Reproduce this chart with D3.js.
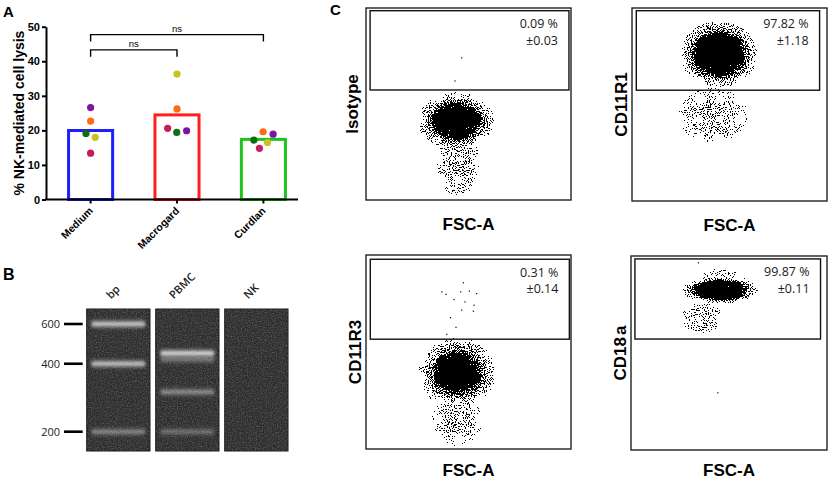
<!DOCTYPE html>
<html>
<head>
<meta charset="utf-8">
<script src="https://cdn.jsdelivr.net/npm/d3@7/dist/d3.min.js"></script>
<style>
  body { margin: 0; background: #fff; }
  svg { display: block; }
</style>
</head>
<body>
<div id="chart"></div>
<script>
// ---- panel A: NK-mediated cell lysis, one value per donor ----
const groups = ['Medium', 'Macrogard', 'Curdlan'];
const groupColors = ['#1e1eff', '#ff1e1e', '#1ec41e'];
const donorColors = ['#cc1a5c', '#ff6a12', '#0f6e0f', '#c6c41c', '#7a16a0'];
const lysisMedium = [13.4, 22.7, 19.1, 18.0, 26.6];
const lysisMacrogard = [20.6, 26.2, 19.4, 36.3, 19.9];
const lysisCurdlan = [14.8, 19.6, 17.2, 16.5, 18.9];
const lysisTicks = [0, 10, 20, 30, 40, 50];
const comparisons = [
  { from: 'Medium', to: 'Curdlan', level: 47.7, label: 'ns' },
  { from: 'Medium', to: 'Macrogard', level: 43.3, label: 'ns' }
];

// ---- panel B: gel, band size (bp) and brightness ----
const lanes = ['bp', 'PBMC', 'NK'];
const ladderSizes = [600, 400, 200];
const bandsBp = [[600, 0.8], [400, 0.75], [200, 0.38]];
const bandsPbmc = [[445, 0.9], [418, 0.3], [300, 0.42], [200, 0.28]];
const bandsNk = [];

// ---- panel C: flow cytometry, axes in % of scale ----
const stains = ['Isotype', 'CD11R1', 'CD11R3', 'CD18a'];
const gatePct = ['0.09 %', '97.82 %', '0.31 %', '99.87 %'];
const gateSd = ['±0.03', '±1.18', '±0.14', '±0.11'];
// gate [FSC min, FSC max, marker min, marker max]
const gates = [[2, 99, 57.3, 98.6], [2.2, 96.2, 57.4, 98.6], [2.1, 99.2, 56.6, 97.8], [2, 96.7, 57.2, 98.5]];
// populations [FSC-A, marker, radius FSC, radius marker, peak density, dense core fraction]
const popsIsotype = [[43.9, 41.1, 18.8, 15.2, 1, 0.5], [44.9, 19.3, 10.5, 17.5, 0.64, 0]];
const popsCD11R1 = [[44.6, 76.1, 20, 17.5, 1, 0.55], [41.5, 44.4, 18, 14.5, 0.62, 0]];
const popsCD11R3 = [[44.4, 39.3, 19, 18.5, 1, 0.45], [44.4, 15.1, 12.5, 14, 0.64, 0]];
const popsCD18a = [[45.5, 82.5, 19.5, 7.2, 1, 0.6], [36.3, 68, 11, 7.8, 0.63, 0], [46, 85, 14, 8.5, 0.6, 0]];
// single events outside the clouds
const eventsIsotype = [[46.7, 74], [43.4, 62]];
const eventsCD11R1 = [];
const eventsCD11R3 = [[47.5, 85.7], [37.0, 81.0], [39.0, 79.7], [46.2, 81.0], [50.4, 81.4], [54.0, 80.1], [42.9, 77.0],
  [48.3, 75.8], [52.7, 74.1], [46.7, 71.6], [52.4, 71.0], [41.2, 67.7], [43.9, 62.7], [39.4, 59.1]];
const eventsCD18a = [[44.3, 29.5], [34.4, 96.5]];

const sans = '"Liberation Sans", Arial, Helvetica, sans-serif';
const open = '"Open Sans", "Noto Sans", sans-serif';

const svg = d3.select('#chart').append('svg')
  .attr('width', 829).attr('height', 480)
  .style('font-family', sans);
const defs = svg.append('defs');
const measure = document.createElement('canvas').getContext('2d');

// panel letters
[['A', 3, 16.5, 15], ['B', 3, 280, 16], ['C', 330, 15, 15]].forEach(([t, x, y, s]) => {
  svg.append('text').attr('x', x).attr('y', y).attr('font-size', s).attr('font-weight', 'bold').text(t);
});

// ================= A =================
const lysis = [lysisMedium, lysisMacrogard, lysisCurdlan];
const yA = d3.scaleLinear().domain([0, 50]).range([199.5, 26.7]);
const xA = d3.scalePoint().domain(groups).range([90.6, 263.4]);
const barW = xA.step() * 0.51;
const gA = svg.append('g');

gA.selectAll('.bar')
  .data(groups)
  .join('rect')
  .attr('class', 'bar')
  .attr('x', d => xA(d) - barW / 2)
  .attr('width', barW)
  .attr('y', (d, i) => yA(d3.mean(lysis[i])))
  .attr('height', (d, i) => yA(0) - yA(d3.mean(lysis[i])))
  .attr('fill', '#fff')
  .attr('stroke', (d, i) => groupColors[i])
  .attr('stroke-width', 3);

// donor dots, spread sideways like a column scatter
const dotR = 3.6;
groups.forEach((g, gi) => {
  const nodes = lysis[gi].map((v, di) => ({ v, di, x: xA(g) + (di - 2) * 0.5, y: yA(v), fy: yA(v) }));
  const sim = d3.forceSimulation(nodes)
    .force('x', d3.forceX(xA(g)).strength(0.08))
    .force('c', d3.forceCollide(5).iterations(3))
    .stop();
  for (let k = 0; k < 300; k++) sim.tick();
  gA.selectAll('.dot' + gi)
    .data(nodes)
    .join('circle')
    .attr('cx', d => d.x)
    .attr('cy', d => d.fy)
    .attr('r', dotR)
    .attr('fill', d => donorColors[d.di]);
});

const yAxisA = gA.append('g')
  .attr('transform', 'translate(46,0)')
  .call(d3.axisLeft(yA).tickValues(lysisTicks).tickSize(4).tickSizeOuter(0).tickPadding(2));
yAxisA.attr('font-family', sans).attr('font-size', 11).attr('font-weight', 'bold');
yAxisA.select('.domain').attr('stroke-width', 2);
yAxisA.selectAll('.tick line').attr('stroke-width', 2);

gA.append('line')
  .attr('x1', 45).attr('x2', 298).attr('y1', yA(0)).attr('y2', yA(0))
  .attr('stroke', '#000').attr('stroke-width', 2);
gA.selectAll('.xtick')
  .data(groups)
  .join('line')
  .attr('x1', d => xA(d)).attr('x2', d => xA(d))
  .attr('y1', yA(0)).attr('y2', yA(0) + 4)
  .attr('stroke', '#000').attr('stroke-width', 2);
gA.selectAll('.xlab')
  .data(groups)
  .join('text')
  .attr('transform', d => `translate(${xA(d) + 3},${yA(0) + 12}) rotate(-45)`)
  .attr('text-anchor', 'end')
  .attr('font-size', 10.5)
  .attr('font-weight', 'bold')
  .text(d => d);

gA.append('text')
  .attr('transform', `translate(23.5,${(yA(0) + yA(50)) / 2}) rotate(-90)`)
  .attr('text-anchor', 'middle')
  .attr('font-size', 14)
  .attr('font-weight', 'bold')
  .text('% NK-mediated cell lysis');

// significance brackets
const legA = yA(0) - yA(2);
comparisons.forEach(c => {
  const x1 = xA(c.from), x2 = xA(c.to), yy = yA(c.level);
  gA.append('path')
    .attr('d', `M${x1},${yy + legA}V${yy}H${x2}V${yy + legA}`)
    .attr('fill', 'none').attr('stroke', '#000').attr('stroke-width', 1.4);
  gA.append('text')
    .attr('x', (x1 + x2) / 2).attr('y', yy - 3)
    .attr('text-anchor', 'middle').attr('font-size', 9.5)
    .text(c.label);
});

// ================= B =================
const gB = svg.append('g');
const laneX = d3.scaleBand().domain(lanes).range([86.7, 288]).paddingInner(0.083);
const bpY = d3.scaleLog().domain([200, 600]).range([431.7, 324]);
const gelTop = 309, gelBottom = 451;
const laneBands = [bandsBp, bandsPbmc, bandsNk];

const grain = defs.append('filter').attr('id', 'grain')
  .attr('color-interpolation-filters', 'sRGB');
grain.append('feTurbulence').attr('type', 'fractalNoise').attr('baseFrequency', 0.8)
  .attr('numOctaves', 2).attr('seed', 11).attr('result', 'n');
grain.append('feColorMatrix').attr('in', 'n').attr('type', 'matrix')
  .attr('values', '0 0 0 0 1  0 0 0 0 1  0 0 0 0 1  0.45 0 0 0 -0.17').attr('result', 'w');
grain.append('feComposite').attr('in', 'w').attr('in2', 'SourceAlpha').attr('operator', 'in');

const glow = defs.append('filter').attr('id', 'glow')
  .attr('x', '-20%').attr('y', '-200%').attr('width', '140%').attr('height', '500%');
glow.append('feGaussianBlur').attr('stdDeviation', '1.5 1.5');

measure.font = '600 11px "Open Sans"';
lanes.forEach((l, li) => {
  const x0 = laneX(l), bw = laneX.bandwidth();
  gB.append('rect')
    .attr('x', x0).attr('y', gelTop).attr('width', bw).attr('height', gelBottom - gelTop)
    .attr('fill', '#2c2c2c').attr('stroke', '#161616').attr('stroke-width', 1);
  gB.append('rect')
    .attr('x', x0).attr('y', gelTop).attr('width', bw).attr('height', gelBottom - gelTop)
    .attr('fill', '#000').attr('filter', 'url(#grain)');
  laneBands[li].forEach(([bp, k]) => {
    gB.append('rect')
      .attr('x', x0 + 4).attr('width', bw - 8)
      .attr('y', bpY(bp) - 4.5).attr('height', 9).attr('rx', 4)
      .attr('fill', '#d0d0d0').attr('opacity', k * 0.4).attr('filter', 'url(#glow)');
    gB.append('rect')
      .attr('x', x0 + 5).attr('width', bw - 10)
      .attr('y', bpY(bp) - 1.8).attr('height', 3.6).attr('rx', 1.8)
      .attr('fill', '#e8e8e8').attr('opacity', k).attr('filter', 'url(#glow)');
  });
  // lane label written along a 45 degree path
  const len = measure.measureText(l).width || l.length * 7;
  const sx = x0 + bw / 2 - len * 0.354 - 2.5, sy = gelTop - 9.5;
  defs.append('path').attr('id', 'lanepath' + li).attr('d', `M${sx},${sy}L${sx + 45},${sy - 45}`);
  gB.append('text')
    .attr('font-family', open).attr('font-size', 11).attr('font-weight', 600).attr('fill', '#222')
    .append('textPath').attr('href', '#lanepath' + li).text(l);
});

gB.selectAll('.ladder')
  .data(ladderSizes)
  .join('line')
  .attr('x1', 64).attr('x2', 82.7)
  .attr('y1', d => bpY(d)).attr('y2', d => bpY(d))
  .attr('stroke', '#000').attr('stroke-width', 2.6);
gB.selectAll('.ladderlab')
  .data(ladderSizes)
  .join('text')
  .attr('x', 60).attr('y', d => bpY(d)).attr('dy', '0.36em')
  .attr('text-anchor', 'end')
  .attr('font-family', open).attr('font-size', 11).attr('fill', '#222')
  .text(d => d);

// ================= C =================
const frames = [
  { x: 366, y: 8, w: 205, h: 192 },
  { x: 632, y: 8, w: 195, h: 193 },
  { x: 366, y: 255, w: 205, h: 194 },
  { x: 631, y: 256, w: 196, h: 194 }
];
const pops = [popsIsotype, popsCD11R1, popsCD11R3, popsCD18a];
const events = [eventsIsotype, eventsCD11R1, eventsCD11R3, eventsCD18a];

stains.forEach((s, i) => {
  const f = frames[i];
  const fx = d3.scaleLinear().domain([0, 100]).range([f.x, f.x + f.w]);
  const fy = d3.scaleLinear().domain([0, 100]).range([f.y + f.h, f.y]);
  const g = svg.append('g');

  defs.append('clipPath').attr('id', 'clip' + i)
    .append('rect').attr('x', f.x).attr('y', f.y).attr('width', f.w).attr('height', f.h);

  // speckle: noise thresholded against a density map
  const sp = defs.append('filter').attr('id', 'speck' + i)
    .attr('color-interpolation-filters', 'sRGB')
    .attr('x', '-10%').attr('y', '-10%').attr('width', '120%').attr('height', '120%');
  sp.append('feTurbulence').attr('type', 'fractalNoise').attr('baseFrequency', 0.95)
    .attr('numOctaves', 1).attr('seed', 5 + i * 7).attr('result', 'noise');
  sp.append('feColorMatrix').attr('in', 'noise').attr('type', 'matrix')
    .attr('values', '0 0 0 0 0  0 0 0 0 0  0 0 0 0 0  1 0 0 0 0').attr('result', 'n');
  sp.append('feComposite').attr('in', 'n').attr('in2', 'SourceAlpha').attr('operator', 'arithmetic')
    .attr('k1', 0).attr('k2', 1).attr('k3', 1.2).attr('k4', -1).attr('result', 'm');
  sp.append('feComponentTransfer').attr('in', 'm')
    .append('feFuncA').attr('type', 'discrete').attr('tableValues', '0 0 0 1 1 1 1 1 1 1');

  const cloud = g.append('g').attr('clip-path', `url(#clip${i})`);
  pops[i].forEach(([cx, cy, rx, ry, peak, core], j) => {
    const id = `dens${i}_${j}`;
    const grad = defs.append('radialGradient').attr('id', id);
    const stops = core > 0
      ? [[0, 1], [core, 0.86], [core + (1 - core) * 0.35, 0.68], [core + (1 - core) * 0.7, 0.6], [1, 0.54]]
      : [[0, peak], [0.6, (peak + 0.54) / 2], [1, 0.54]];
    stops.forEach(([o, a]) => grad.append('stop').attr('offset', o).attr('stop-color', '#000').attr('stop-opacity', a));
    cloud.append('ellipse')
      .attr('cx', fx(cx)).attr('cy', fy(cy))
      .attr('rx', fx(cx + rx) - fx(cx)).attr('ry', fy(cy) - fy(cy + ry))
      .attr('fill', `url(#${id})`)
      .attr('filter', `url(#speck${i})`);
  });
  g.selectAll('.ev')
    .data(events[i])
    .join('rect')
    .attr('x', d => fx(d[0]) - 0.6).attr('y', d => fy(d[1]) - 0.6)
    .attr('width', 1.2).attr('height', 1.2).attr('fill', '#000');

  g.append('rect')
    .attr('x', f.x).attr('y', f.y).attr('width', f.w).attr('height', f.h)
    .attr('fill', 'none').attr('stroke', '#222').attr('stroke-width', 1.4);
  const gt = gates[i];
  g.append('rect')
    .attr('x', fx(gt[0])).attr('y', fy(gt[3]))
    .attr('width', fx(gt[1]) - fx(gt[0])).attr('height', fy(gt[2]) - fy(gt[3]))
    .attr('fill', 'none').attr('stroke', '#111').attr('stroke-width', 1.4);
  g.append('text')
    .attr('x', fx(gt[1]) - 11).attr('y', fy(gt[3]) + 13).attr('dy', '0.35em')
    .attr('text-anchor', 'end').attr('font-family', open).attr('font-size', 12.5).attr('fill', '#1a1a1a')
    .text(gatePct[i]);
  g.append('text')
    .attr('x', fx(gt[1]) - 11).attr('y', fy(gt[3]) + 29.5).attr('dy', '0.35em')
    .attr('text-anchor', 'end').attr('font-family', open).attr('font-size', 12.5).attr('fill', '#1a1a1a')
    .text(gateSd[i]);

  const gap = /[gjpqy]/.test(s) ? 8.5 : 5;
  const lab = g.append('text')
    .attr('transform', `translate(${f.x - gap},${f.y + f.h / 2}) rotate(-90)`)
    .attr('text-anchor', 'middle').attr('font-size', 17).attr('font-weight', 'bold');
  if (s === 'CD18a') {
    lab.text('CD18');
    lab.append('tspan').attr('dx', 2).text('a');
  } else {
    lab.text(s);
  }
  g.append('text')
    .attr('x', f.x + f.w / 2).attr('y', Math.min(f.y + f.h + 30, 475.5))
    .attr('text-anchor', 'middle').attr('font-size', 17).attr('font-weight', 'bold')
    .text('FSC-A');
});
</script>
</body>
</html>
